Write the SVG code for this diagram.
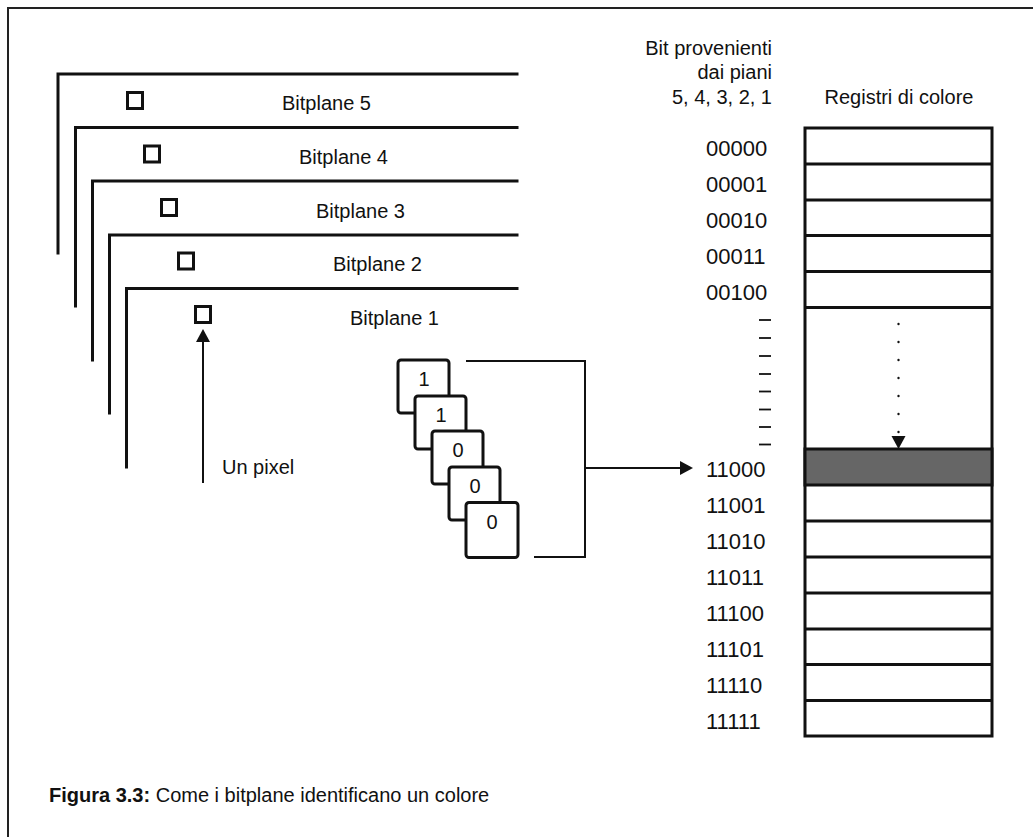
<svg xmlns="http://www.w3.org/2000/svg" width="1033" height="837" viewBox="0 0 1033 837">
<defs>
<style>
text{font-family:"Liberation Sans",Arial,sans-serif;fill:#111}
.lbl{font-size:20px}
.num{font-size:22px}
.frame{fill:none;stroke:#111;stroke-width:3;stroke-linecap:square}
.px{fill:#fff;stroke:#111;stroke-width:3}
.bit{fill:#fff;stroke:#111;stroke-width:3}
.reg{fill:#fff;stroke:#111;stroke-width:3}
.thin{fill:none;stroke:#111;stroke-width:2}
.dash{stroke:#111;stroke-width:1.8}
</style>
</defs>
<rect width="1033" height="837" fill="#fff"/>
<path d="M8 837 V8 H1033" fill="none" stroke="#222" stroke-width="2"/>

<g id="bitplane5">
<path class="frame" d="M58 253 V74 H517"/>
<rect class="px" x="127.5" y="92.5" width="15" height="16"/>
<text class="lbl" x="282" y="110">Bitplane 5</text>
</g>
<g id="bitplane4">
<path class="frame" d="M75.5 306 V127.5 H517"/>
<rect class="px" x="144.5" y="146" width="15" height="16"/>
<text class="lbl" x="299" y="164">Bitplane 4</text>
</g>
<g id="bitplane3">
<path class="frame" d="M92.5 360 V181 H517"/>
<rect class="px" x="161.5" y="199.5" width="15" height="16"/>
<text class="lbl" x="316" y="218">Bitplane 3</text>
</g>
<g id="bitplane2">
<path class="frame" d="M109.5 413 V235 H517"/>
<rect class="px" x="178.5" y="253" width="15" height="16"/>
<text class="lbl" x="333" y="271">Bitplane 2</text>
</g>
<g id="bitplane1">
<path class="frame" d="M126.5 467 V288.5 H517"/>
<rect class="px" x="195.5" y="306.5" width="15" height="16"/>
<text class="lbl" x="350" y="325">Bitplane 1</text>
</g>

<g id="pixel-label">
<text class="lbl" x="222" y="474">Un pixel</text>
</g>

<g id="bits">
<rect class="bit" x="398" y="360" width="51" height="53" rx="3"/>
<text class="lbl" x="424" y="386" text-anchor="middle">1</text>
<rect class="bit" x="415" y="396" width="51" height="53" rx="3"/>
<text class="lbl" x="441" y="422" text-anchor="middle">1</text>
<rect class="bit" x="432" y="431" width="51" height="53" rx="3"/>
<text class="lbl" x="458" y="457" text-anchor="middle">0</text>
<rect class="bit" x="449" y="467" width="51" height="53" rx="3"/>
<text class="lbl" x="475" y="493" text-anchor="middle">0</text>
<rect class="bit" x="466" y="502.5" width="52" height="55" rx="3"/>
<text class="lbl" x="492" y="529" text-anchor="middle">0</text>
</g>

<g id="header">
<text class="lbl" x="772" y="55" text-anchor="end">Bit provenienti</text>
<text class="lbl" x="772" y="79" text-anchor="end">dai piani</text>
<text class="lbl" x="772" y="104" text-anchor="end">5, 4, 3, 2, 1</text>
<text class="lbl" x="899" y="104" text-anchor="middle">Registri di colore</text>
</g>

<g id="registers">
<rect class="reg" x="805" y="128" width="187" height="608"/>
<rect x="805" y="449" width="187" height="36" fill="#666" stroke="#111" stroke-width="3"/>
<g stroke="#111" stroke-width="3">
<line x1="805" y1="164" x2="992" y2="164"/>
<line x1="805" y1="200" x2="992" y2="200"/>
<line x1="805" y1="235.5" x2="992" y2="235.5"/>
<line x1="805" y1="271.5" x2="992" y2="271.5"/>
<line x1="805" y1="307.5" x2="992" y2="307.5"/>
<line x1="805" y1="521" x2="992" y2="521"/>
<line x1="805" y1="557" x2="992" y2="557"/>
<line x1="805" y1="593" x2="992" y2="593"/>
<line x1="805" y1="629" x2="992" y2="629"/>
<line x1="805" y1="664.5" x2="992" y2="664.5"/>
<line x1="805" y1="700.5" x2="992" y2="700.5"/>
</g>
</g>

<g id="codes">
<text class="num" x="706" y="156">00000</text>
<text class="num" x="706" y="192">00001</text>
<text class="num" x="706" y="228">00010</text>
<text class="num" x="706" y="263.5">00011</text>
<text class="num" x="706" y="299.5">00100</text>
<text class="num" x="706" y="477">11000</text>
<text class="num" x="706" y="513">11001</text>
<text class="num" x="706" y="549">11010</text>
<text class="num" x="706" y="585">11011</text>
<text class="num" x="706" y="621">11100</text>
<text class="num" x="706" y="656.5">11101</text>
<text class="num" x="706" y="692.5">11110</text>
<text class="num" x="706" y="728.5">11111</text>
<g class="dash">
<line x1="759" y1="320" x2="771" y2="320"/>
<line x1="759" y1="338" x2="771" y2="338"/>
<line x1="759" y1="356" x2="771" y2="356"/>
<line x1="759" y1="374" x2="771" y2="374"/>
<line x1="759" y1="391.5" x2="771" y2="391.5"/>
<line x1="759" y1="409.5" x2="771" y2="409.5"/>
<line x1="759" y1="427" x2="771" y2="427"/>
<line x1="759" y1="444.5" x2="771" y2="444.5"/>
</g>
</g>

<g id="connectors">
<line x1="203" y1="342" x2="203" y2="483" stroke="#111" stroke-width="2"/>
<polygon points="203,329 196,342 210,342" fill="#111"/>
<path class="thin" d="M466 361 H585 V557 H534"/>
<line x1="585" y1="468" x2="681" y2="468" stroke="#111" stroke-width="2"/>
<polygon points="680,461 693,468 680,475" fill="#111"/>
<g fill="#111">
<circle cx="898.5" cy="324" r="1.2"/>
<circle cx="898.5" cy="342" r="1.2"/>
<circle cx="898.5" cy="360" r="1.2"/>
<circle cx="898.5" cy="378" r="1.2"/>
<circle cx="898.5" cy="396" r="1.2"/>
<circle cx="898.5" cy="414" r="1.2"/>
<circle cx="898.5" cy="432" r="1.2"/>
</g>
<polygon points="891.5,436 905.5,436 898.5,449" fill="#111"/>
</g>

<g id="caption">
<text x="49" y="802" style="font-size:20px"><tspan font-weight="bold">Figura 3.3:</tspan> Come i bitplane identificano un colore</text>
</g>
</svg>
